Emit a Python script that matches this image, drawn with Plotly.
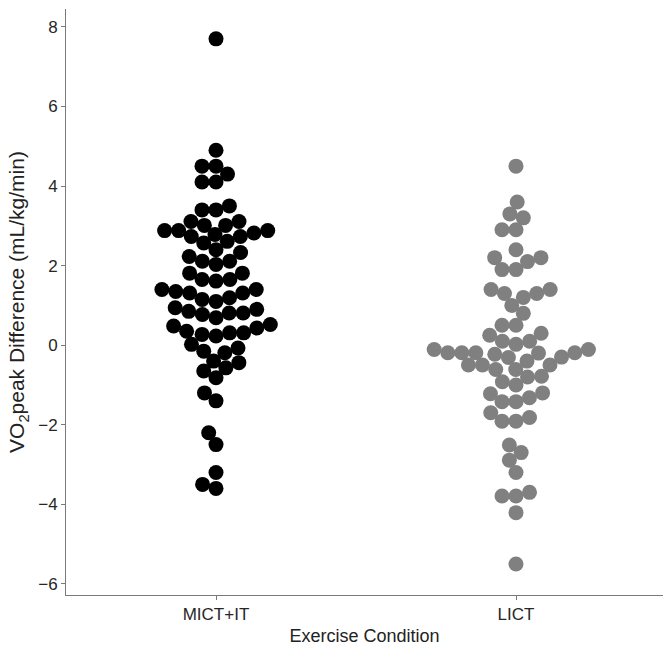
import numpy as np
import plotly.graph_objects as go

categories = ["MICT+IT", "LICT"]

mict_it = [7.7, 4.9, 4.5, 4.5, 4.3, 4.1, 4.1, 3.5, 3.4, 3.4,
           3.11, 3.01, 3.01, 3.11,
           2.88, 2.88, 2.88, 2.82,
           2.73, 2.57, 2.61, 2.73, 2.78,
           2.40,
           2.23, 2.11, 2.03, 2.11, 2.33,
           1.81, 1.65, 1.61, 1.65, 1.81,
           1.40, 1.35, 1.31, 1.19, 1.31, 1.40, 1.10, 1.15,
           0.94, 0.85, 0.81, 0.90, 0.77, 0.69, 0.81,
           0.52, 0.31, 0.31, 0.43, 0.35, 0.23, 0.27, 0.48,
           0.02, -0.07, -0.15, -0.19,
           -0.40, -0.57, -0.65, -0.44,
           -0.82, -1.2, -1.4, -2.2, -2.5, -3.2, -3.5, -3.6]

lict = [4.5, 3.6, 3.3, 3.2, 2.9, 2.9, 2.4, 2.2, 2.2, 2.1, 1.9, 1.9,
        1.4, 1.3, 1.2, 1.3, 1.4, 1.0, 0.8, 0.5, 0.5, 0.3, 0.25, 0.1, 0.1,
        0.02, -0.19, -0.31, -0.11, -0.19, -0.30, -0.19, -0.19, -0.11, -0.40, -0.23, -0.20,
        -0.50, -0.61, -0.61, -0.78, -0.50, -0.50, -0.80,
        -0.92, -1.00,
        -1.20, -1.32, -1.42, -1.42, -1.22,
        -1.70, -1.91, -1.91, -1.82,
        -2.51, -2.70, -2.89, -3.20,
        -3.79, -3.79, -3.70,
        -4.21, -5.5]

yticks = [-6, -4, -2, 0, 2, 4, 6, 8]

# figure geometry
W, H = 663, 646
ML, MR, MT, MB = 66, 0, 9, 51
Y_RANGE = [-6.28, 8.45]
X_RANGE = [0.5, 2.49]
plot_w = W - ML - MR
plot_h = H - MT - MB
px_per_y = plot_h / (Y_RANGE[1] - Y_RANGE[0])
px_per_x = plot_w / (X_RANGE[1] - X_RANGE[0])
DOT = 14.0  # centre spacing in px


def swarm(values):
    """Beeswarm layout (ascending priority), returns offsets in x-axis units."""
    vals = np.asarray(values, dtype=float)
    order = np.argsort(vals, kind="stable")
    placed = []
    offs = np.zeros(len(vals))
    for i in order:
        y = vals[i] * px_per_y
        cands = [0.0]
        for (py, px) in placed:
            dy = y - py
            if abs(dy) < DOT:
                o = np.sqrt(DOT ** 2 - dy ** 2)
                cands += [px - o, px + o]
        good = []
        for c in cands:
            ok = all((c - px) ** 2 + (y - py) ** 2 >= DOT ** 2 * 0.999 for (py, px) in placed)
            if ok:
                good.append(c)
        best = sorted(good, key=lambda c: (round(abs(c), 6), c))[0]
        offs[i] = best
        placed.append((y, best))
    return offs / px_per_x


fig = go.Figure()
for k, (vals, col) in enumerate([(mict_it, "#000000"), (lict, "#808080")]):
    xs = (k + 1) + swarm(vals)
    fig.add_trace(go.Scatter(
        x=xs, y=vals, mode="markers",
        marker=dict(size=15, color=col, line=dict(width=0)),
        name=categories[k], showlegend=False, hoverinfo="y"))

FONT = "Liberation Sans, Arial, sans-serif"
axis_font = dict(family=FONT, size=17, color="#262626")
fig.update_layout(
    width=W, height=H,
    margin=dict(l=ML, r=MR, t=MT, b=MB, autoexpand=False),
    plot_bgcolor="white", paper_bgcolor="white",
    font=dict(family=FONT, size=17, color="#222222"),
    xaxis=dict(range=X_RANGE, tickvals=[1, 2], ticktext=categories,
               showgrid=False, zeroline=False, showline=True, linecolor="#7a7a7a", linewidth=1,
               ticks="outside", ticklen=4, tickcolor="#7a7a7a", tickfont=axis_font,
               automargin=False,
               title=dict(text="Exercise Condition", standoff=8,
                          font=dict(family=FONT, size=18, color="#222222"))),
    yaxis=dict(range=Y_RANGE, tickvals=yticks,
               showgrid=False, zeroline=False, showline=True, linecolor="#7a7a7a", linewidth=1,
               ticks="outside", ticklen=4, tickcolor="#7a7a7a", tickfont=axis_font,
               automargin=False,
               title=dict(text="VO<sub>2</sub>peak Difference (mL/kg/min)", standoff=7,
                          font=dict(family=FONT, size=21, color="#222222"))),
)

fig.write_html("out.html", config={"displayModeBar": False},
               post_script="document.body.style.margin='0';document.body.style.padding='0';")
